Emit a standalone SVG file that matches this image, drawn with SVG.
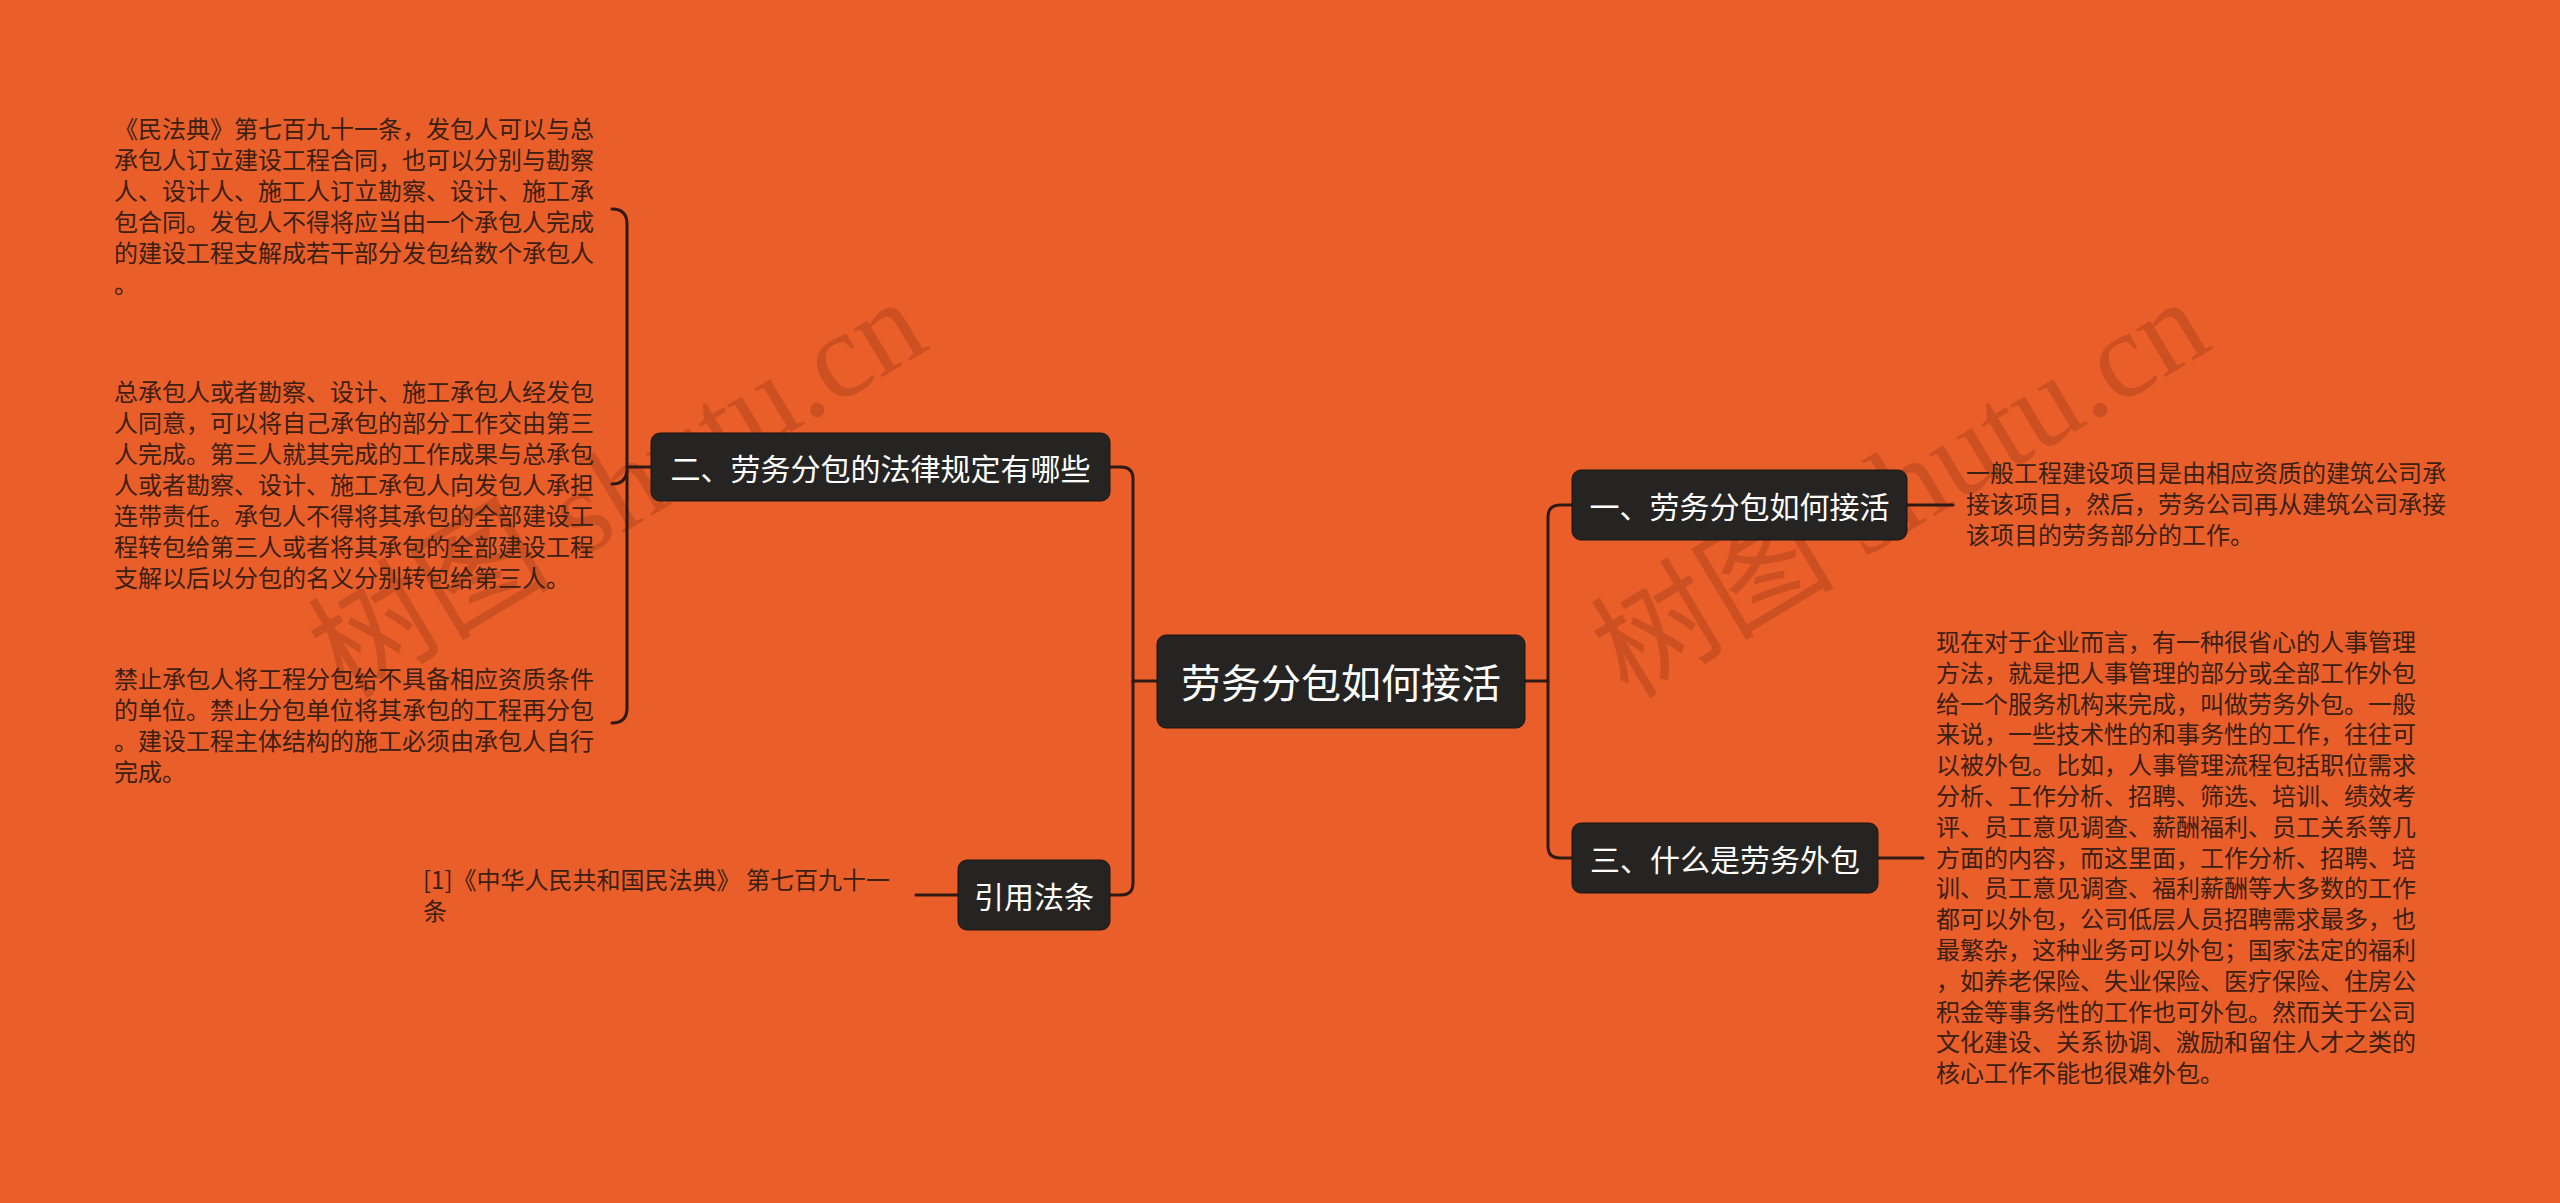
<svg xmlns="http://www.w3.org/2000/svg" width="2560" height="1203" viewBox="0 0 2560 1203">
<style>
.bg{fill:#EA5E29}
.node rect{fill:#262422;stroke:#1a1412;stroke-width:1}
.node text{fill:#ffffff;font-family:"Noto Sans CJK SC","Noto Sans",sans-serif;text-anchor:middle;dominant-baseline:central}
.leaf{fill:#3a2014;font-family:"Noto Sans CJK SC","Noto Sans",sans-serif;font-size:24px}
.conn path{fill:none;stroke:#2e1a12;stroke-width:3;stroke-linecap:round}
.wm{fill:#7a2a10;opacity:0.25;font-family:"Liberation Serif","Noto Sans CJK SC",serif;font-size:122px}
</style>
<rect class="bg" x="0" y="0" width="2560" height="1203"/>
<g id="watermarks">
<text class="wm" x="0" y="0" transform="translate(345,700) rotate(-31)">树图 shutu.cn</text>
<text class="wm" x="0" y="0" transform="translate(1628,700) rotate(-31)">树图 shutu.cn</text>
</g>
<g class="conn" id="connectors">
<path d="M1157 681 H1133 V479 Q1133 467 1121 467 H1110"/>
<path d="M1133 681 V883 Q1133 895 1121 895 H1110"/>
<path d="M1525 681 H1548 V517 Q1548 505 1560 505 H1572"/>
<path d="M1548 681 V846 Q1548 858 1560 858 H1572"/>
<path d="M1907 505 H1953"/>
<path d="M1878 858 H1923"/>
<path d="M958 895 H916"/>
<path d="M651 467 H627"/>
<path d="M612 209 Q627 209 627 224 V708 Q627 723 612 723"/>
<path d="M612 484 Q625 484 627 472"/>
</g>
<g id="root" class="node">
<rect x="1157" y="635" width="368" height="93" rx="9"/>
<text x="1341" y="681" font-size="40">劳务分包如何接活</text>
</g>
<g id="n2" class="node">
<rect x="651" y="433" width="459" height="68" rx="9"/>
<text x="880.5" y="467" font-size="30">二、劳务分包的法律规定有哪些</text>
</g>
<g id="n4" class="node">
<rect x="958" y="860" width="152" height="70" rx="9"/>
<text x="1034" y="895" font-size="30">引用法条</text>
</g>
<g id="n1" class="node">
<rect x="1572" y="470" width="335" height="70" rx="9"/>
<text x="1739.5" y="505" font-size="30">一、劳务分包如何接活</text>
</g>
<g id="n3" class="node">
<rect x="1572" y="823" width="306" height="70" rx="9"/>
<text x="1725" y="858" font-size="30">三、什么是劳务外包</text>
</g>
<g id="leaf2a">
<text class="leaf" x="114" y="138">《民法典》第七百九十一条，发包人可以与总</text>
<text class="leaf" x="114" y="169">承包人订立建设工程合同，也可以分别与勘察</text>
<text class="leaf" x="114" y="200">人、设计人、施工人订立勘察、设计、施工承</text>
<text class="leaf" x="114" y="231">包合同。发包人不得将应当由一个承包人完成</text>
<text class="leaf" x="114" y="262">的建设工程支解成若干部分发包给数个承包人</text>
<text class="leaf" x="114" y="293">。</text>
</g>
<g id="leaf2b">
<text class="leaf" x="114" y="401">总承包人或者勘察、设计、施工承包人经发包</text>
<text class="leaf" x="114" y="432">人同意，可以将自己承包的部分工作交由第三</text>
<text class="leaf" x="114" y="463">人完成。第三人就其完成的工作成果与总承包</text>
<text class="leaf" x="114" y="494">人或者勘察、设计、施工承包人向发包人承担</text>
<text class="leaf" x="114" y="525">连带责任。承包人不得将其承包的全部建设工</text>
<text class="leaf" x="114" y="556">程转包给第三人或者将其承包的全部建设工程</text>
<text class="leaf" x="114" y="587">支解以后以分包的名义分别转包给第三人。</text>
</g>
<g id="leaf2c">
<text class="leaf" x="114" y="688">禁止承包人将工程分包给不具备相应资质条件</text>
<text class="leaf" x="114" y="719">的单位。禁止分包单位将其承包的工程再分包</text>
<text class="leaf" x="114" y="750">。建设工程主体结构的施工必须由承包人自行</text>
<text class="leaf" x="114" y="781">完成。</text>
</g>
<g id="leaf4">
<text class="leaf" x="423" y="889">[1]《中华人民共和国民法典》 第七百九十一</text>
<text class="leaf" x="423" y="920">条</text>
</g>
<g id="leaf1">
<text class="leaf" x="1966" y="482">一般工程建设项目是由相应资质的建筑公司承</text>
<text class="leaf" x="1966" y="513">接该项目，然后，劳务公司再从建筑公司承接</text>
<text class="leaf" x="1966" y="544">该项目的劳务部分的工作。</text>
</g>
<g id="leaf3">
<text class="leaf" x="1936" y="651">现在对于企业而言，有一种很省心的人事管理</text>
<text class="leaf" x="1936" y="682">方法，就是把人事管理的部分或全部工作外包</text>
<text class="leaf" x="1936" y="713">给一个服务机构来完成，叫做劳务外包。一般</text>
<text class="leaf" x="1936" y="743">来说，一些技术性的和事务性的工作，往往可</text>
<text class="leaf" x="1936" y="774">以被外包。比如，人事管理流程包括职位需求</text>
<text class="leaf" x="1936" y="805">分析、工作分析、招聘、筛选、培训、绩效考</text>
<text class="leaf" x="1936" y="836">评、员工意见调查、薪酬福利、员工关系等几</text>
<text class="leaf" x="1936" y="867">方面的内容，而这里面，工作分析、招聘、培</text>
<text class="leaf" x="1936" y="897">训、员工意见调查、福利薪酬等大多数的工作</text>
<text class="leaf" x="1936" y="928">都可以外包，公司低层人员招聘需求最多，也</text>
<text class="leaf" x="1936" y="959">最繁杂，这种业务可以外包；国家法定的福利</text>
<text class="leaf" x="1936" y="990">，如养老保险、失业保险、医疗保险、住房公</text>
<text class="leaf" x="1936" y="1021">积金等事务性的工作也可外包。然而关于公司</text>
<text class="leaf" x="1936" y="1051">文化建设、关系协调、激励和留住人才之类的</text>
<text class="leaf" x="1936" y="1082">核心工作不能也很难外包。</text>
</g>
</svg>
